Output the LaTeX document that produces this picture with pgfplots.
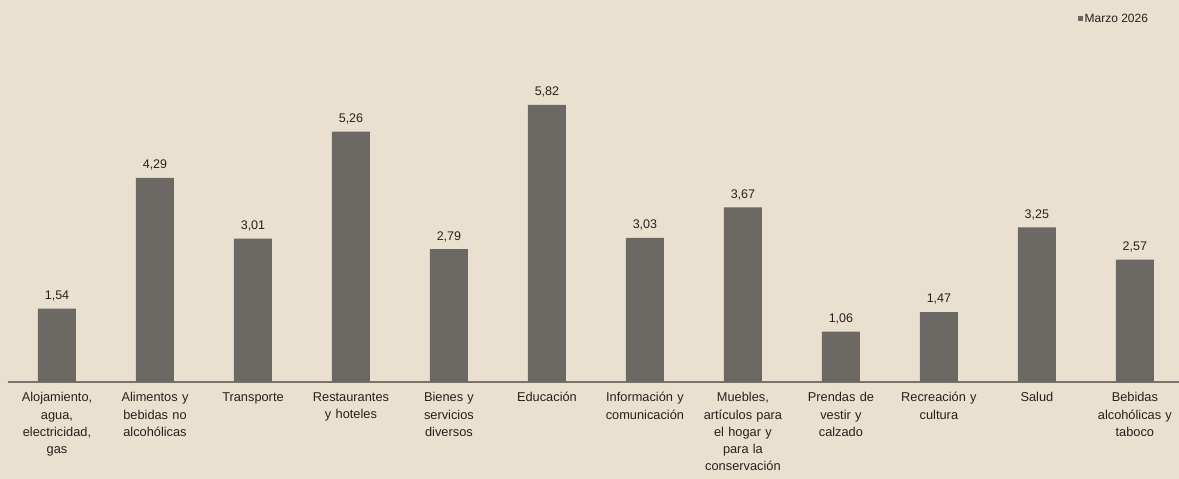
\documentclass[border=0pt]{standalone}
\usepackage{pgfplots}
\pgfplotsset{compat=1.18}
\usepackage{fontspec}
\setmainfont{Liberation Sans}
\definecolor{bgcol}{RGB}{234,224,207}
\definecolor{barcol}{RGB}{108,105,100}
\definecolor{linecol}{RGB}{120,116,110}
\definecolor{txtcol}{RGB}{35,33,31}
\begin{document}
\begin{tikzpicture}[x=1pt,y=1pt]
\fill[bgcol] (-8,-97) rectangle (1171,382);
\useasboundingbox (-8,-97) rectangle (1171,382);
\begin{axis}[
  at={(0,0)}, anchor=south west,
  scale only axis,
  width=1171pt, height=382pt,
  xmin=-0.5, xmax=11.45,
  ymin=0, ymax=8.025,
  hide y axis,
  axis x line*=bottom,
  x axis line style={draw=linecol, line width=1.2pt},
  xtick={0,1,2,3,4,5,6,7,8,9,10,11},
  xticklabels={
    {Alojamiento,\\agua,\\electricidad,\\gas},
    {Alimentos y\\bebidas no\\alcohólicas},
    {Transporte},
    {Restaurantes\\y hoteles},
    {Bienes y\\servicios\\diversos},
    {Educación},
    {Información y\\comunicación},
    {Muebles,\\artículos para\\el hogar y\\para la\\conservación},
    {Prendas de\\vestir y\\calzado},
    {Recreación y\\cultura},
    {Salud},
    {Bebidas\\alcohólicas y\\taboco}},
  xticklabel style={align=center, text width=100pt, anchor=north, yshift=-7pt,
    font=\fontsize{12.8}{17.2}\selectfont, text=txtcol},
  major tick length=0pt,
  ybar, bar width=38pt,
  nodes near coords,
  nodes near coords style={font=\fontsize{12.5}{14}\selectfont, text=txtcol, yshift=4pt,
    /pgf/number format/.cd, fixed, fixed zerofill, precision=2, use comma, assume math mode=true},
  legend style={at={(0.978,0.975)}, anchor=north east, draw=none, fill=none,
    font=\fontsize{12}{13}\selectfont, text=txtcol,
    /tikz/every even column/.append style={column sep=0pt}},
  legend image code/.code={\fill[barcol] (2pt,-2.5pt) rectangle (7pt,2.5pt);},
  axis background/.style={fill=none},
]
\addplot[fill=barcol, draw=none] coordinates {
  (0,1.54) (1,4.29) (2,3.01) (3,5.26) (4,2.79) (5,5.82)
  (6,3.03) (7,3.67) (8,1.06) (9,1.47) (10,3.25) (11,2.57)};
\addlegendentry{Marzo 2026}
\end{axis}
\end{tikzpicture}
\end{document}
